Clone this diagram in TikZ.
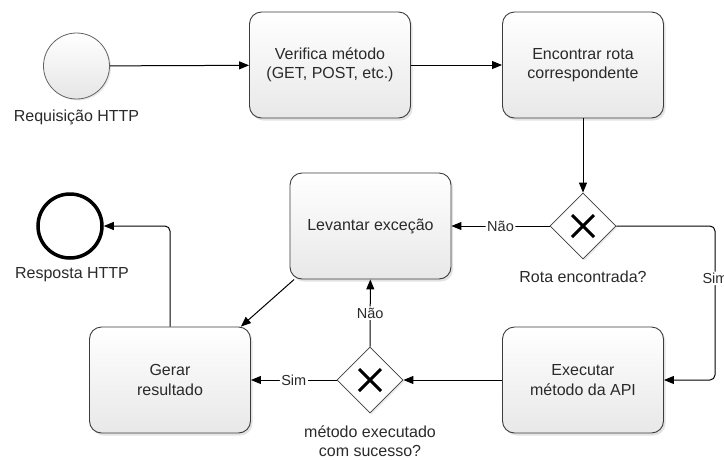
\documentclass[tikz,border=0pt]{standalone}
\usepackage{fontspec}
\setmainfont{Liberation Sans}
\usetikzlibrary{shapes.geometric,shadows,arrows.meta,calc}
\definecolor{txt}{HTML}{2A2A2A}
\definecolor{bord}{HTML}{3C3C3C}
\begin{document}
\begin{tikzpicture}[x=1pt,y=-1pt,
  task/.style={draw=bord, line width=0.9pt, rounded corners=12pt,
    minimum width=161pt, minimum height=106pt, top color=white, bottom color=black!9,
    drop shadow={shadow xshift=2pt, shadow yshift=-2.5pt, opacity=0.22},
    align=center, font=\fontsize{16}{19.5}\selectfont, text=txt},
  gate/.style={diamond, aspect=1, draw=bord, fill=white, minimum width=66pt,
    minimum height=66pt, inner sep=0pt, line width=0.8pt,
    drop shadow={shadow xshift=1.5pt, shadow yshift=-1.5pt, opacity=0.18}},
  xmark/.style={line width=3pt, black},
  flow/.style={draw=black, line width=1pt, -{Triangle[length=10pt,width=8pt]}, rounded corners=5pt},
  lbl/.style={font=\fontsize{16}{19.5}\selectfont, text=txt, align=center},
  elbl/.style={fill=white, inner sep=1.5pt, font=\fontsize{14.5}{16}\selectfont, text=txt}]
\useasboundingbox (0,0) rectangle (724,459);

% events
\node[circle, draw=bord!80, line width=0.8pt, minimum size=66pt, inner sep=0pt,
  top color=white, bottom color=black!10,
  drop shadow={shadow xshift=1.5pt, shadow yshift=-1.5pt, opacity=0.18}] (start) at (76.5,66) {};
\node[lbl] (startlbl) at (76.5,117) {Requisição HTTP};
\node[circle, draw=black, line width=3.5pt, minimum size=64pt, inner sep=0pt, fill=white,
  drop shadow={shadow xshift=1.5pt, shadow yshift=-1.5pt, opacity=0.18}] (end) at (70,226) {};
\node[lbl] (endlbl) at (72,275) {Resposta HTTP};

% tasks
\node[task] (b1) at (330,65) {Verifica método\\(GET, POST, etc.)};
\node[task] (b2) at (583,65) {Encontrar rota\\correspondente};
\node[task] (lev) at (370.5,226) {Levantar exceção};
\node[task] (exe) at (583,380) {Executar\\método da API};
\node[task] (ger) at (170,380) {Gerar\\resultado};

% gateways
\node[gate] (g1) at (583,226) {};
\draw[xmark] ($(g1)+(-11,-11)$) -- ($(g1)+(11,11)$);
\draw[xmark] ($(g1)+(-11,11)$) -- ($(g1)+(11,-11)$);
\node[lbl] (g1lbl) at (583,277) {Rota encontrada?};

\node[gate] (g2) at (370,380) {};
\draw[xmark] ($(g2)+(-11,-11)$) -- ($(g2)+(11,11)$);
\draw[xmark] ($(g2)+(-11,11)$) -- ($(g2)+(11,-11)$);
\node[lbl] (g2lbl) at (370,441) {método executado\\com sucesso?};

% connectors
\coordinate (cR1) at (715,226);
\coordinate (cR2) at (715,380);
\draw[flow] (start) -- (b1);
\draw[flow] (b1) -- (b2);
\draw[flow] (b2) -- (g1);
\draw[flow] (g1) -- node[elbl] (n1) {Não} (lev);
\draw[flow] (g1.east) -- (cR1) -- node[elbl, pos=0.34] (s1) {Sim} (cR2) -- (exe.east);
\draw[flow] (exe) -- (g2);
\draw[flow] (g2) -- node[elbl] (s2) {Sim} (ger);
\draw[flow] (g2) -- node[elbl] (n2) {Não} (lev);
\draw[flow] (lev.215) -- ($(ger.north east)+(-10,0)$);
\draw[flow] (ger.north) |- (end);
\end{tikzpicture}
\end{document}
